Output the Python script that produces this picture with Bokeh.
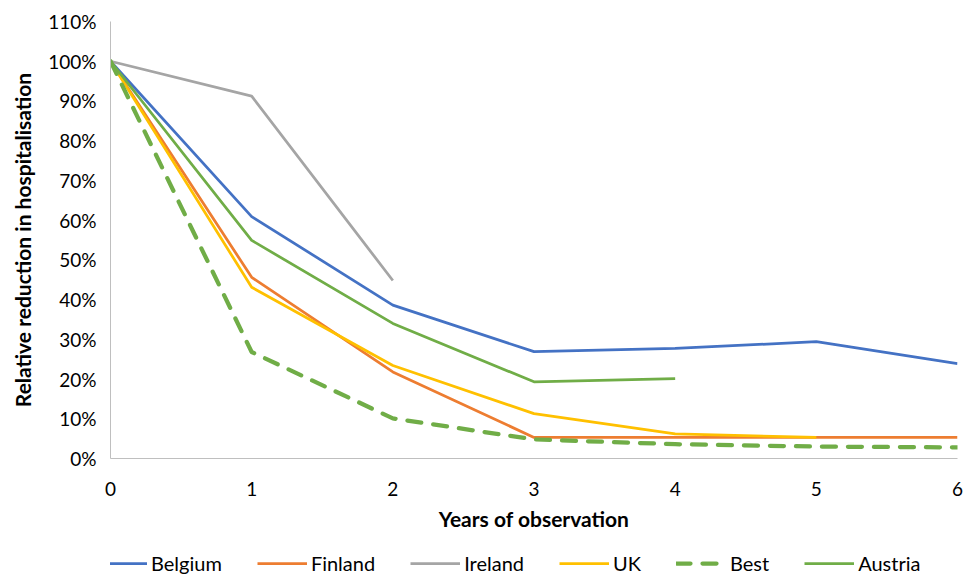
from bokeh.plotting import figure
from bokeh.layouts import column
from bokeh.models import (Legend, LegendItem, FixedTicker, NumeralTickFormatter,
                          Range1d)
from bokeh.embed import file_html
from bokeh.resources import INLINE

# Years of observation and relative hospitalisation (fraction of baseline)
years = [0, 1, 2, 3, 4, 5, 6]
belgium = [1.00, 0.609, 0.386, 0.269, 0.277, 0.294, 0.239]
finland = [1.00, 0.456, 0.218, 0.053, 0.053, 0.053, 0.053]
ireland = [1.00, 0.912, 0.448]
uk = [1.00, 0.431, 0.234, 0.113, 0.062, 0.053]
best = [1.00, 0.268, 0.101, 0.048, 0.036, 0.030, 0.028]
austria = [1.00, 0.549, 0.340, 0.193, 0.201]

y_ticks = [0.0, 0.1, 0.2, 0.3, 0.4, 0.5, 0.6, 0.7, 0.8, 0.9, 1.0, 1.1]
x_ticks = [0, 1, 2, 3, 4, 5, 6]

FONT = "Lato"
TEXT = "#000000"

series = [
    ("Belgium", belgium, "#4472C4", "solid", 2.75),
    ("Finland", finland, "#ED7D31", "solid", 2.75),
    ("Ireland", ireland, "#A5A5A5", "solid", 2.75),
    ("UK", uk, "#FFC000", "solid", 2.75),
    ("Best", best, "#70AD47", "14 12", 4.25),
    ("Austria", austria, "#70AD47", "solid", 2.75),
]

# main chart
p = figure(width=963, height=543, output_backend="svg", toolbar_location=None,
           x_range=Range1d(0, 6), y_range=Range1d(0, 1.1),
           min_border_left=110, min_border_right=6, min_border_top=21,
           min_border_bottom=85)
p.outline_line_color = None
p.xgrid.visible = False
p.ygrid.visible = False

for name, vals, color, dash, lw in series:
    p.line(years[:len(vals)], vals, line_color=color, line_width=lw,
           line_dash=dash, line_cap="round" if dash != "solid" else "butt",
           line_join="round")

for ax in (p.xaxis[0], p.yaxis[0]):
    ax.axis_line_color = "#BFBFBF"
    ax.axis_line_width = 1
    ax.major_tick_line_color = None
    ax.minor_tick_line_color = None
    ax.major_label_text_font = FONT
    ax.major_label_text_font_size = "19px"
    ax.major_label_text_color = TEXT
    ax.axis_label_text_font = FONT
    ax.axis_label_text_font_size = "21px"
    ax.axis_label_text_font_style = "bold"
    ax.axis_label_text_color = TEXT

p.xaxis.ticker = FixedTicker(ticks=x_ticks)
p.yaxis.ticker = FixedTicker(ticks=y_ticks)
p.yaxis.formatter = NumeralTickFormatter(format="0%")
p.xaxis.axis_label = "Years of observation"
p.yaxis.axis_label = "Relative reduction in hospitalisation"
p.xaxis.major_label_standoff = 17
p.xaxis.axis_label_standoff = 7
p.yaxis.major_label_standoff = 8
p.yaxis.axis_label_standoff = 10

# legend strip under the chart; its lines sit outside the visible range so
# only the legend swatches show
lg = figure(width=963, height=32, output_backend="svg", toolbar_location=None,
            x_range=Range1d(0, 1), y_range=Range1d(0, 1),
            x_axis_type=None, y_axis_type=None,
            min_border_left=110, min_border_right=6, min_border_top=0,
            min_border_bottom=0)
lg.outline_line_color = None
lg.xgrid.visible = False
lg.ygrid.visible = False

items = []
for name, vals, color, dash, lw in series:
    r = lg.line([-10, -9], [-10, -9], line_color=color, line_width=lw,
                line_dash=dash,
                line_cap="round" if dash != "solid" else "butt")
    items.append(LegendItem(label=name, renderers=[r]))

legend = Legend(items=items, orientation="horizontal", location=(-13, 0),
                label_text_font=FONT, label_text_font_size="20px",
                label_text_color=TEXT, glyph_width=50, glyph_height=20,
                label_standoff=4, spacing=35, padding=0, margin=0,
                border_line_color=None, background_fill_alpha=0)
lg.add_layout(legend, "center")

layout = column(p, lg, spacing=0)
open("out.html", "w").write(file_html(layout, INLINE))
